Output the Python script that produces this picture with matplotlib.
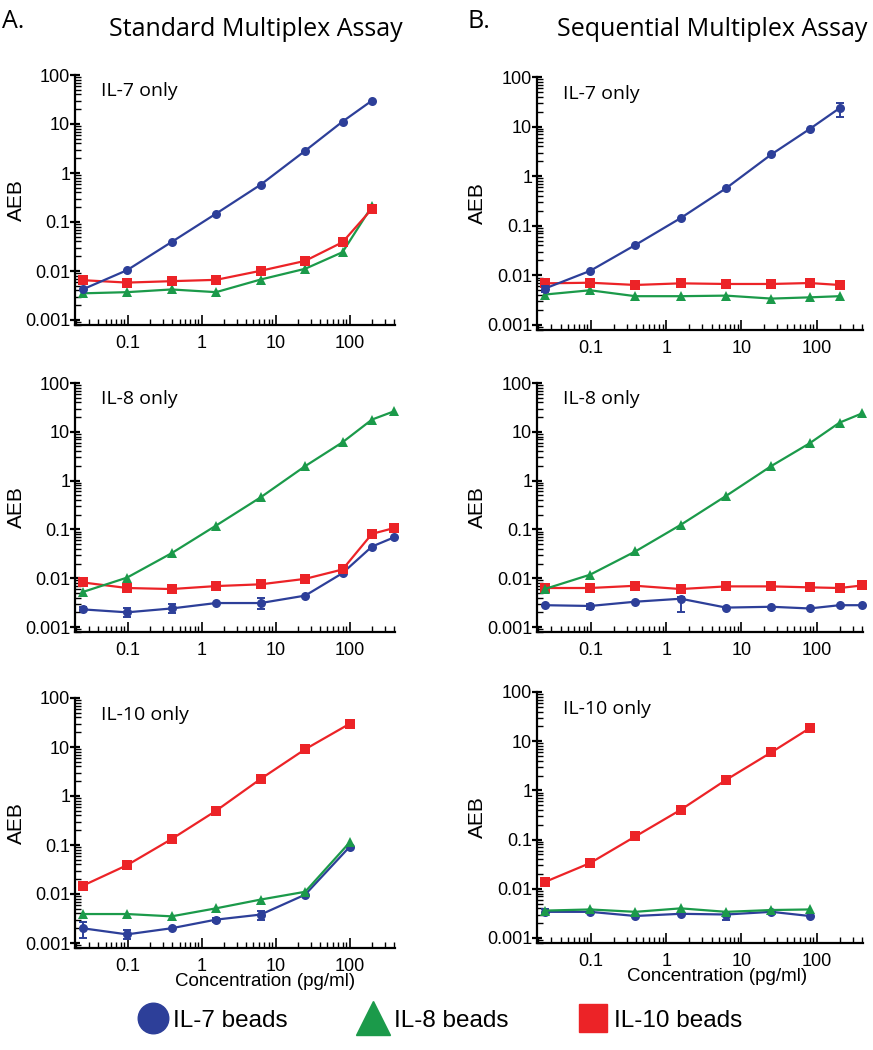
import numpy as np
import matplotlib
matplotlib.use("Agg")
import matplotlib.pyplot as plt
from matplotlib.lines import Line2D
from matplotlib.ticker import LogLocator, FixedLocator, NullFormatter

plt.rcParams['font.family'] = ['Liberation Sans', 'DejaVu Sans']

# ---------------- data ----------------
conc_il7 = [0.0244, 0.0977, 0.39, 1.56, 6.25, 25, 80, 200]
conc_il8 = [0.0244, 0.0977, 0.39, 1.56, 6.25, 25, 80, 200, 400]
conc_il10_std = [0.0244, 0.0977, 0.39, 1.56, 6.25, 25, 100]
conc_il10_seq = [0.0244, 0.0977, 0.39, 1.56, 6.25, 25, 80]

# Standard assay, IL-7 only
std_il7_blue = [0.0042, 0.0104, 0.039, 0.148, 0.577, 2.84, 11.2, 30.0]
std_il7_green = [0.0035, 0.0037, 0.0042, 0.0037, 0.0067, 0.0111, 0.0242, 0.21]
std_il7_red = [0.0065, 0.0058, 0.0062, 0.0066, 0.0101, 0.0161, 0.0387, 0.185]
# Sequential assay, IL-7 only
seq_il7_blue = [0.0054, 0.0123, 0.041, 0.143, 0.572, 2.76, 8.9, 23.5]
seq_il7_green = [0.0041, 0.0050, 0.0038, 0.0038, 0.0039, 0.0034, 0.0036, 0.0038]
seq_il7_red = [0.0069, 0.0071, 0.0064, 0.0069, 0.0067, 0.0067, 0.0070, 0.0064]
# Standard assay, IL-8 only
std_il8_blue = [0.0023, 0.0020, 0.0024, 0.0031, 0.0031, 0.0044, 0.0127, 0.0445, 0.069]
std_il8_green = [0.0052, 0.0103, 0.0325, 0.120, 0.454, 1.98, 6.1, 17.8, 26.4]
std_il8_red = [0.0082, 0.0063, 0.0060, 0.0069, 0.0075, 0.0097, 0.0151, 0.081, 0.107]
# Sequential assay, IL-8 only
seq_il8_blue = [0.0028, 0.0027, 0.0033, 0.0038, 0.0025, 0.0026, 0.0024, 0.0028, 0.0028]
seq_il8_green = [0.0060, 0.0118, 0.0354, 0.124, 0.487, 2.0, 5.8, 15.4, 23.9]
seq_il8_red = [0.0063, 0.0063, 0.0070, 0.0060, 0.0068, 0.0068, 0.0065, 0.0063, 0.0071]
# Standard assay, IL-10 only
std_il10_blue = [0.0020, 0.0015, 0.0020, 0.0030, 0.0038, 0.0097, 0.092]
std_il10_green = [0.0039, 0.0039, 0.0035, 0.0051, 0.0077, 0.0111, 0.113]
std_il10_red = [0.0147, 0.0388, 0.132, 0.50, 2.23, 9.0, 29.8]
# Sequential assay, IL-10 only
seq_il10_blue = [0.0034, 0.0034, 0.0028, 0.0031, 0.0030, 0.0034, 0.0028]
seq_il10_green = [0.0036, 0.0038, 0.0034, 0.0040, 0.0034, 0.0037, 0.0038]
seq_il10_red = [0.0137, 0.0333, 0.116, 0.403, 1.64, 5.96, 18.3]

# error bars (lower, upper) for IL-7 bead series; None = no visible bar
std_il8_blue_lo = [0.0021, 0.0016, 0.0019, None, 0.0023, None, None, None, None]
std_il8_blue_hi = [0.0026, 0.0024, 0.0029, None, 0.0039, None, None, None, None]
std_il10_blue_lo = [0.00127, 0.0012, None, 0.0027, 0.0029, None, None]
std_il10_blue_hi = [0.0027, 0.0018, None, 0.0033, 0.0046, None, None]
seq_il7_blue_lo = [0.0047, None, None, None, None, None, None, 15.7]
seq_il7_blue_hi = [0.0060, None, None, None, None, None, None, 29.9]
seq_il8_blue_lo = [None, 0.0023, None, 0.0020, None, None, None, None, None]
seq_il8_blue_hi = [None, 0.0030, None, 0.0042, None, None, None, None, None]
seq_il10_blue_lo = [0.0029, None, None, None, 0.0023, None, None]
seq_il10_blue_hi = [0.0038, None, None, None, 0.0033, None, None]

panel_titles = ["IL-7 only", "IL-8 only", "IL-10 only"]
column_titles = ["Standard Multiplex Assay", "Sequential Multiplex Assay"]
column_letters = ["A.", "B."]
legend_labels = ["IL-7 beads", "IL-8 beads", "IL-10 beads"]
y_ticks = [0.001, 0.01, 0.1, 1, 10, 100]
y_ticklabels = ["0.001", "0.01", "0.1", "1", "10", "100"]
x_ticks = [0.1, 1, 10, 100]
x_ticklabels = ["0.1", "1", "10", "100"]

BLUE = "#2d3f99"
GREEN = "#1b9a4a"
RED = "#ec2327"

# ---------------- layout ----------------
W, H = 873, 1050
fig = plt.figure(figsize=(W / 100, H / 100), dpi=100)

col_x = [(75, 395), (537, 863)]
row_y = [[(75, 320), (383, 627), (698, 943)],
         [(77, 325), (383, 627), (692, 938)]]
YMIN = 10 ** (-3 - 5 / 49.0)
XMIN, XMAX = 0.0193, 410
xlabel_center_px = [265, 717]
ylabel_right_px = [26, 487]


def make_ax(c, r):
    x0, x1 = col_x[c]
    t, b = row_y[c][r]
    b2 = b + 5
    ax = fig.add_axes([x0 / W, 1 - b2 / H, (x1 - x0) / W, (b2 - t) / H])
    ax.set_xscale('log')
    ax.set_yscale('log')
    ax.set_xlim(XMIN, XMAX)
    ax.set_ylim(YMIN, 100)
    for s in ['top', 'right']:
        ax.spines[s].set_visible(False)
    for s in ['left', 'bottom']:
        ax.spines[s].set_linewidth(1.6)
    ax.yaxis.set_major_locator(FixedLocator(y_ticks))
    ax.set_yticklabels(y_ticklabels)
    ax.yaxis.set_minor_locator(LogLocator(base=10, subs=np.arange(2, 10), numticks=20))
    ax.yaxis.set_minor_formatter(NullFormatter())
    ax.xaxis.set_major_locator(FixedLocator(x_ticks))
    ax.set_xticklabels(x_ticklabels)
    ax.xaxis.set_minor_locator(LogLocator(base=10, subs=np.arange(2, 10), numticks=20))
    ax.xaxis.set_minor_formatter(NullFormatter())
    ax.tick_params(axis='y', which='major', direction='inout', length=7, width=1.6,
                   labelsize=13, pad=0)
    ax.tick_params(axis='y', which='minor', direction='in', length=4, width=1.0)
    ax.tick_params(axis='x', which='major', direction='in', length=7, width=1.2,
                   labelsize=13, pad=7)
    ax.tick_params(axis='x', which='minor', direction='in', length=4, width=1.0)
    ax.set_ylabel("AEB", fontsize=15)
    ax.yaxis.set_label_coords((ylabel_right_px[c] - x0) / (x1 - x0), 0.5)
    ax.text(0.08, 0.97, panel_titles[r], transform=ax.transAxes, fontsize=14,
            family=['Open Sans', 'DejaVu Sans'], ha='left', va='top')
    return ax


def plot_series(ax, x, y, color, marker, ms, lo=None, hi=None, z=3):
    ax.plot(x, y, color=color, marker=marker, markersize=ms, linewidth=1.6,
            markeredgewidth=0, zorder=z, clip_on=False)
    if lo is not None:
        for xi, yi, l, h in zip(x, y, lo, hi):
            if l is None:
                continue
            ax.errorbar([xi], [yi], yerr=[[yi - l], [h - yi]], color=color,
                        capsize=3, elinewidth=1.4, capthick=1.4, fmt='none', zorder=z)


def add_xlabel(ax, c):
    x0, x1 = col_x[c]
    ax.set_xlabel("Concentration (pg/ml)", fontsize=13.5)
    ax.xaxis.set_label_coords((xlabel_center_px[c] - x0) / (x1 - x0), -0.1)


MS_C, MS_T, MS_S = 6.5, 7, 6.5

# Column A
ax = make_ax(0, 0)
plot_series(ax, conc_il7, std_il7_green, GREEN, '^', MS_T)
plot_series(ax, conc_il7, std_il7_red, RED, 's', MS_S)
plot_series(ax, conc_il7, std_il7_blue, BLUE, 'o', MS_C)

ax = make_ax(0, 1)
plot_series(ax, conc_il8, std_il8_blue, BLUE, 'o', MS_C, std_il8_blue_lo, std_il8_blue_hi)
plot_series(ax, conc_il8, std_il8_red, RED, 's', MS_S)
plot_series(ax, conc_il8, std_il8_green, GREEN, '^', MS_T)

ax = make_ax(0, 2)
plot_series(ax, conc_il10_std, std_il10_blue, BLUE, 'o', MS_C, std_il10_blue_lo, std_il10_blue_hi)
plot_series(ax, conc_il10_std, std_il10_green, GREEN, '^', MS_T)
plot_series(ax, conc_il10_std, std_il10_red, RED, 's', MS_S)
add_xlabel(ax, 0)

# Column B
ax = make_ax(1, 0)
plot_series(ax, conc_il7, seq_il7_green, GREEN, '^', MS_T)
plot_series(ax, conc_il7, seq_il7_red, RED, 's', MS_S)
plot_series(ax, conc_il7, seq_il7_blue, BLUE, 'o', MS_C, seq_il7_blue_lo, seq_il7_blue_hi)

ax = make_ax(1, 1)
plot_series(ax, conc_il8, seq_il8_blue, BLUE, 'o', MS_C, seq_il8_blue_lo, seq_il8_blue_hi)
plot_series(ax, conc_il8, seq_il8_red, RED, 's', MS_S)
plot_series(ax, conc_il8, seq_il8_green, GREEN, '^', MS_T)

ax = make_ax(1, 2)
plot_series(ax, conc_il10_seq, seq_il10_blue, BLUE, 'o', MS_C, seq_il10_blue_lo, seq_il10_blue_hi)
plot_series(ax, conc_il10_seq, seq_il10_green, GREEN, '^', MS_T)
plot_series(ax, conc_il10_seq, seq_il10_red, RED, 's', MS_S)
add_xlabel(ax, 1)

# titles
fig.text(2 / W, 1 - 22 / H, column_letters[0], fontsize=18, family=['Open Sans', 'DejaVu Sans'],
         ha='left', va='center')
fig.text(468 / W, 1 - 22 / H, column_letters[1], fontsize=18, family=['Open Sans', 'DejaVu Sans'],
         ha='left', va='center')
fig.text(256 / W, 1 - 30 / H, column_titles[0], fontsize=18, family=['Open Sans', 'DejaVu Sans'],
         ha='center', va='center')
fig.text(712 / W, 1 - 30 / H, column_titles[1], fontsize=18, family=['Open Sans', 'DejaVu Sans'],
         ha='center', va='center')

# legend
handles = [Line2D([], [], color=BLUE, marker='o', linestyle='none', markersize=22),
           Line2D([], [], color=GREEN, marker='^', linestyle='none', markersize=24),
           Line2D([], [], color=RED, marker='s', linestyle='none', markersize=20)]
fig.legend(handles, legend_labels, loc='center', bbox_to_anchor=(440 / W, 1 - 1021 / H),
           ncol=3, frameon=False, fontsize=17.5, handletextpad=0.25, columnspacing=2.9,
           handlelength=1.2)

fig.savefig("out.png", dpi=100)
